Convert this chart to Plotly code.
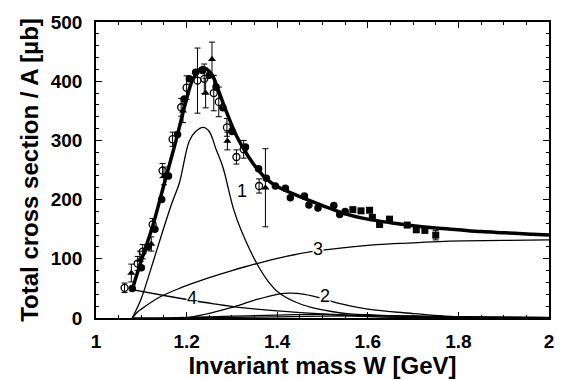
import plotly.graph_objects as go

# ---- data ----
W_total = [1.08, 1.10, 1.125, 1.15, 1.175, 1.20, 1.215, 1.235, 1.255, 1.27, 1.287, 1.31, 1.337, 1.36, 1.376,
           1.40, 1.45, 1.50, 1.55, 1.60, 1.65, 1.70, 1.75, 1.80, 1.85, 1.90, 1.95, 2.0]
v_total = [48, 97, 155, 225, 295, 370, 405, 423, 412, 385, 350, 308, 272, 248, 235,
           222, 205, 190, 176, 167, 161, 156, 152, 149, 146, 144, 142, 140]

W_c1 = [1.08, 1.10, 1.12, 1.14, 1.168, 1.184, 1.206, 1.22, 1.237, 1.25, 1.265, 1.28, 1.304, 1.32, 1.355,
        1.38, 1.403, 1.44, 1.475, 1.52, 1.56, 1.62, 1.70, 1.80, 2.0]
v_c1 = [0, 33, 80, 129, 195, 228, 299, 315, 322, 315, 285, 255, 183, 149, 92,
        62, 43, 27, 18, 11, 7, 5, 3, 2, 1]

W_c2 = [1.20, 1.25, 1.30, 1.35, 1.40, 1.43, 1.46, 1.50, 1.534, 1.60, 1.694, 1.80, 1.90, 2.0]
v_c2 = [0, 8, 18, 30, 40, 42, 40, 33, 25, 15, 8, 2, 0.5, 0]

W_c3 = [1.08, 1.09, 1.10, 1.14, 1.184, 1.25, 1.30, 1.355, 1.42, 1.475, 1.55, 1.62, 1.70, 1.78, 1.90, 2.0]
v_c3 = [0, 9, 15, 35, 50, 68, 80, 92, 104, 112, 119, 124, 127, 130, 131, 132]

W_c4 = [1.08, 1.15, 1.21, 1.26, 1.315, 1.40, 1.50, 1.62, 1.75, 2.0]
v_c4 = [48, 38, 30, 24, 18, 12, 7, 2, 0.5, 0]

W_c5 = [1.08, 1.20, 1.30, 1.40, 1.50, 1.60, 1.70, 1.80, 1.90, 2.0]
v_c5 = [0, 1, 3, 5, 6, 4, 3, 1.5, 1, 0.5]

W_c6 = [1.20, 1.30, 1.40, 1.50, 1.60, 1.70, 1.80, 1.90, 2.0]
v_c6 = [0, 1, 2, 3, 3.5, 3, 2, 1, 0.5]

W_open = [1.063, 1.092, 1.103, 1.125, 1.147, 1.169, 1.188, 1.200, 1.224, 1.239, 1.260, 1.271, 1.289, 1.310, 1.326, 1.360]
v_open = [51, 92, 112, 158, 249, 302, 356, 389, 401, 404, 380, 365, 322, 272, 285, 223]
e_open = [8, 12, 12, 10, 12, 12, 15, 20, 55, 25, 30, 25, 15, 12, 15, 12]

W_tri = [1.078, 1.097, 1.122, 1.150, 1.192, 1.242, 1.256, 1.290, 1.374]
v_tri = [76, 98, 125, 240, 350, 380, 437, 299, 220]
e_tri = [15, 15, 12, 15, 20, 25, 29, 15, 66]

W_fill = [1.08, 1.10, 1.115, 1.13, 1.145, 1.16, 1.18, 1.195, 1.206, 1.22, 1.235, 1.25, 1.265, 1.28, 1.30,
          1.33, 1.359, 1.376, 1.396, 1.418, 1.429, 1.46, 1.47, 1.49, 1.525, 1.538, 1.55]
v_fill = [50, 85, 120, 150, 200, 240, 310, 370, 404, 415, 418, 410, 390, 355, 315,
          289, 252, 236, 223, 219, 203, 206, 191, 186, 190, 175, 180]

W_sq = [1.567, 1.585, 1.604, 1.61, 1.626, 1.648, 1.687, 1.707, 1.726, 1.75]
v_sq = [183, 181, 182, 170, 158, 167, 157, 149, 148, 140]
e_sq = [0, 0, 0, 0, 0, 0, 0, 0, 0, 8]

curve_labels = ["1", "2", "3", "4"]
label_W = [1.322, 1.505, 1.49, 1.212]
label_v = [215, 38, 117, 33]

x_ticks = [1, 1.2, 1.4, 1.6, 1.8, 2]
x_ticktext = ["1", "1.2", "1.4", "1.6", "1.8", "2"]
y_ticks = [0, 100, 200, 300, 400, 500]

FONT = "Liberation Sans"

fig = go.Figure()

for wx, vy in [(W_c1, v_c1), (W_c2, v_c2), (W_c3, v_c3), (W_c4, v_c4), (W_c5, v_c5), (W_c6, v_c6)]:
    fig.add_trace(go.Scatter(x=wx, y=vy, mode="lines", line=dict(color="black", width=1.3, shape="spline"),
                             showlegend=False, hoverinfo="skip"))

fig.add_trace(go.Scatter(x=W_open, y=v_open, mode="markers",
                         marker=dict(symbol="circle-open", size=7, color="black", line=dict(width=1.3)),
                         error_y=dict(type="data", array=e_open, color="black", thickness=1, width=3),
                         showlegend=False))
fig.add_trace(go.Scatter(x=W_tri, y=v_tri, mode="markers",
                         marker=dict(symbol="triangle-up", size=7, color="black"),
                         error_y=dict(type="data", array=e_tri, color="black", thickness=1, width=3),
                         showlegend=False))
fig.add_trace(go.Scatter(x=W_fill, y=v_fill, mode="markers",
                         marker=dict(symbol="circle", size=7.5, color="black"),
                         showlegend=False))
fig.add_trace(go.Scatter(x=W_sq, y=v_sq, mode="markers",
                         marker=dict(symbol="square", size=7, color="black"),
                         error_y=dict(type="data", array=e_sq, color="black", thickness=1, width=3),
                         showlegend=False))

fig.add_trace(go.Scatter(x=W_total, y=v_total, mode="lines", line=dict(color="black", width=3.5, shape="spline"),
                         showlegend=False, hoverinfo="skip"))

for t, wx, vy in zip(curve_labels, label_W, label_v):
    fig.add_annotation(x=wx, y=vy, text=t, showarrow=False, bgcolor="white",
                       font=dict(family=FONT, size=18, color="black"), borderpad=0)

axis_common = dict(showline=True, linecolor="black", linewidth=1.5, mirror="ticks",
                   ticks="inside", tickcolor="black", ticklen=6, showgrid=False, zeroline=False,
                   tickfont=dict(family=FONT, size=19, color="black", weight="bold"))

fig.update_xaxes(range=[1, 2], tickvals=x_ticks, ticktext=x_ticktext,
                 minor=dict(dtick=0.05, ticks="inside", ticklen=3, tickcolor="black"),
                 title=dict(text="Invariant mass W [GeV]", font=dict(family=FONT, size=24, color="black", weight="bold"),
                            standoff=0),
                 ticklabelstandoff=5, **axis_common)
fig.update_yaxes(range=[0, 500], tickvals=y_ticks,
                 minor=dict(dtick=20, ticks="inside", ticklen=3, tickcolor="black"),
                 title=dict(text="Total cross section / A [µb]", font=dict(family=FONT, size=24, color="black", weight="bold"),
                            standoff=5),
                 ticklabelstandoff=8, **axis_common)

fig.update_layout(width=566, height=380, margin=dict(l=96, r=13, t=15, b=62),
                  paper_bgcolor="white", plot_bgcolor="white")

fig.write_html("out.html")
